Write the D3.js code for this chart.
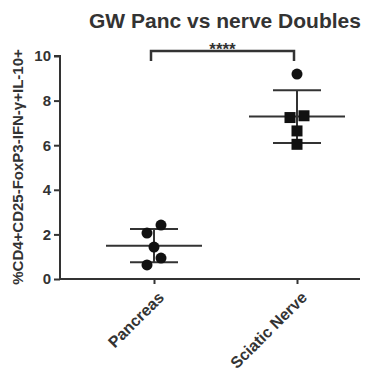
<!DOCTYPE html>
<html>
<head>
<meta charset="utf-8">
<script src="https://cdn.jsdelivr.net/npm/d3@7"></script>
<style>
  html, body { margin: 0; padding: 0; background: #fff; }
  svg { display: block; font-family: "Liberation Sans", Arial, sans-serif; }
</style>
</head>
<body>
<svg id="chart" width="386" height="374"></svg>
<script>
// Groups and individual measurements
const categories = ["Pancreas", "Sciatic Nerve"];
const pancreas = [2.42, 2.06, 1.43, 0.94, 0.63];
const sciaticNerve = [9.19, 7.32, 7.24, 6.64, 6.04];
const yTicks = [0, 2, 4, 6, 8, 10];
const title = "GW Panc vs nerve Doubles";
const yLabel = "%CD4+CD25-FoxP3-IFN-\u03b3+IL-10+";
const significance = "****";

const groups = [
  { name: categories[0], values: pancreas, shape: "circle" },
  { name: categories[1], values: sciaticNerve, shape: "square", firstShape: "circle" }
];

const ink = "#333";
const font = "Liberation Sans, Arial, sans-serif";
const svg = d3.select("#chart");

const y = d3.scaleLinear().domain([0, 10]).range([279, 56]);
const x = d3.scalePoint().domain(categories).range([154, 297]);
const axisLeftX = 60, axisRightX = 360;

// Title
svg.append("text")
  .attr("x", 225).attr("y", 28)
  .attr("text-anchor", "middle")
  .attr("font-size", 21).attr("font-weight", "bold")
  .attr("fill", ink)
  .text(title);

// Y axis
const yAxis = svg.append("g")
  .attr("transform", `translate(${axisLeftX},0)`)
  .call(d3.axisLeft(y).tickValues(yTicks).tickSize(6).tickPadding(3).tickFormat(d3.format("d")));
yAxis.select(".domain").attr("stroke", ink).attr("stroke-width", 2)
  .attr("d", `M-6,${y(10)}H0V${y(0)}`);
yAxis.selectAll(".tick line").attr("stroke", ink).attr("stroke-width", 2);
yAxis.selectAll(".tick text").attr("fill", ink).attr("font-size", 15).attr("font-weight", "bold")
  .attr("font-family", font);

// X axis
svg.append("line")
  .attr("x1", axisLeftX - 1).attr("x2", axisRightX)
  .attr("y1", y(0)).attr("y2", y(0))
  .attr("stroke", ink).attr("stroke-width", 2);
const xAxis = svg.append("g")
  .attr("transform", `translate(0,${y(0)})`)
  .call(d3.axisBottom(x).tickSize(5).tickPadding(0));
xAxis.select(".domain").remove();
xAxis.selectAll(".tick line").attr("stroke", ink).attr("stroke-width", 2);
xAxis.selectAll(".tick text")
  .attr("fill", ink).attr("font-size", 16).attr("font-weight", "bold")
  .attr("font-family", font)
  .attr("text-anchor", "end")
  .attr("dy", null)
  .attr("transform", "translate(7,16) rotate(-45)");

// Y axis title
svg.append("text")
  .attr("transform", `translate(23,${167}) rotate(-90)`)
  .attr("text-anchor", "middle")
  .attr("font-size", 15).attr("font-weight", "bold")
  .attr("fill", ink)
  .text(yLabel);

// Spread overlapping points sideways: near neighbours become a pair, higher one to the right
function dodge(values, minGap, offset) {
  const order = values.map((v, i) => i).sort((a, b) => values[b] - values[a]);
  const out = new Array(values.length).fill(0);
  let k = 0;
  while (k < order.length) {
    const i = order[k], j = order[k + 1];
    if (j !== undefined && Math.abs(y(values[i]) - y(values[j])) < minGap) {
      out[i] = offset; out[j] = -offset; k += 2;
    } else { k += 1; }
  }
  return out;
}

const meanHalf = 48, sdHalf = 24;
groups.forEach(g => {
  const cx = x(g.name);
  const m = d3.mean(g.values), sd = d3.deviation(g.values);
  const lines = svg.append("g").attr("stroke", ink).attr("stroke-width", 2);
  lines.append("line").attr("x1", cx).attr("x2", cx).attr("y1", y(m + sd)).attr("y2", y(m - sd));
  lines.append("line").attr("x1", cx - meanHalf).attr("x2", cx + meanHalf).attr("y1", y(m)).attr("y2", y(m));
  [m + sd, m - sd].forEach(v => lines.append("line")
    .attr("x1", cx - sdHalf).attr("x2", cx + sdHalf).attr("y1", y(v)).attr("y2", y(v)));

  const offs = dodge(g.values, 10, 7);
  const topIdx = d3.maxIndex(g.values);
  g.values.forEach((v, i) => {
    const shape = (g.firstShape && i === topIdx) ? g.firstShape : g.shape;
    const px = cx + offs[i], py = y(v);
    if (shape === "circle") {
      svg.append("circle").attr("cx", px).attr("cy", py).attr("r", 5.5).attr("fill", "#111");
    } else {
      svg.append("rect").attr("x", px - 5.5).attr("y", py - 5.5)
        .attr("width", 11).attr("height", 11).attr("fill", "#111");
    }
  });
});

// Significance bracket
const bx1 = x(categories[0]) - 3, bx2 = x(categories[1]) - 3, by = 51;
svg.append("path")
  .attr("d", `M${bx1},${by + 10}V${by}H${bx2}V${by + 10}`)
  .attr("fill", "none").attr("stroke", ink).attr("stroke-width", 2.5);
svg.append("text")
  .attr("x", (bx1 + bx2) / 2).attr("y", 55)
  .attr("text-anchor", "middle")
  .attr("font-size", 17).attr("font-weight", "bold").attr("fill", ink)
  .text(significance);
</script>
</body>
</html>
